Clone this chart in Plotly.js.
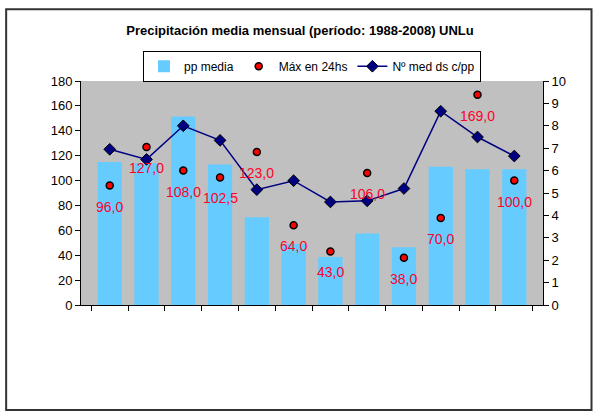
<!DOCTYPE html>
<html>
<head>
<meta charset="utf-8">
<script src="https://cdn.plot.ly/plotly-3.0.1.min.js"></script>
<style>
  body { margin: 0; background: #fff; }
  #chart { width: 600px; height: 420px; }
</style>
</head>
<body>
<div id="chart"></div>
<script>
// months (no labels shown on the axis)
var meses = ["Ene", "Feb", "Mar", "Abr", "May", "Jun", "Jul", "Ago", "Sep", "Oct", "Nov", "Dic"];
// precipitation mean (mm), left axis
var ppMedia = [115, 114, 151.5, 113, 70.5, 49, 38.5, 57.5, 46.5, 111, 109, 109];
// max in 24 hs (mm), left axis
var max24hs = [96, 127, 108, 102.5, 123, 64, 43, 106, 38, 70, 169, 100];
// mean number of days with precipitation, right axis
var diasPp = [6.95, 6.5, 8.0, 7.35, 5.15, 5.55, 4.6, 4.65, 5.2, 8.65, 7.5, 6.65];

var tickFont = { family: "Liberation Sans, Arial, sans-serif", size: 13, color: "#000" };

var data = [
  {
    x: meses,
    y: ppMedia,
    type: "bar",
    name: "pp media",
    marker: { color: "#66CCFF", line: { width: 0 } },
    width: 0.66,
    hoverinfo: "x+y"
  },
  {
    x: meses,
    y: max24hs,
    type: "scatter",
    mode: "markers",
    name: "Máx en 24hs",
    marker: { color: "#FF0000", size: 7, line: { color: "#000", width: 1.5 } }
  },
  {
    x: meses,
    y: diasPp,
    type: "scatter",
    mode: "lines+markers",
    name: "Nº med ds c/pp",
    yaxis: "y2",
    line: { color: "#000080", width: 1.5 },
    marker: { symbol: "diamond", color: "#000080", size: 9, line: { color: "#000", width: 1 } }
  }
];

// red value labels under the max points
var etiquetas = max24hs.map(function (v, i) {
  return {
    x: meses[i],
    y: v,
    text: v.toFixed(1).replace(".", ","),
    showarrow: false,
    yshift: -21,
    font: { family: "Liberation Sans, Arial, sans-serif", size: 14, color: "#FF0028" }
  };
});

var layout = {
  width: 600,
  height: 420,
  margin: { l: 81, r: 57, t: 81, b: 115, pad: 0 },
  paper_bgcolor: "#fff",
  plot_bgcolor: "#C0C0C0",
  bargap: 0.34,
  title: {
    text: "<b>Precipitación media mensual (período: 1988-2008) UNLu</b>",
    font: { family: "Liberation Sans, Arial, sans-serif", size: 13, color: "#000" },
    x: 0.5,
    xanchor: "center",
    y: 0.928,
    yanchor: "middle"
  },
  showlegend: true,
  legend: {
    orientation: "h",
    x: 0.5,
    xanchor: "center",
    y: 1.135,
    yanchor: "top",
    bgcolor: "#fff",
    bordercolor: "#000",
    borderwidth: 1,
    font: { family: "Liberation Sans, Arial, sans-serif", size: 12, color: "#000" },
    traceorder: "normal",
    itemwidth: 30,
    tracegroupgap: 0
  },
  xaxis: {
    type: "category",
    showticklabels: false,
    tickson: "boundaries",
    ticks: "outside",
    ticklen: 5,
    tickcolor: "#000",
    showline: true,
    linecolor: "#000",
    linewidth: 1,
    showgrid: false,
    zeroline: false,
    fixedrange: true
  },
  yaxis: {
    range: [0, 180],
    tickvals: [0, 20, 40, 60, 80, 100, 120, 140, 160, 180],
    ticks: "outside",
    ticklen: 5,
    tickcolor: "#000",
    tickfont: tickFont,
    showline: true,
    linecolor: "#000",
    linewidth: 1,
    showgrid: false,
    zeroline: false
  },
  yaxis2: {
    overlaying: "y",
    side: "right",
    range: [0, 10],
    tickvals: [0, 1, 2, 3, 4, 5, 6, 7, 8, 9, 10],
    ticks: "outside",
    ticklen: 5,
    tickcolor: "#000",
    tickfont: tickFont,
    showline: true,
    linecolor: "#000",
    linewidth: 1,
    showgrid: false,
    zeroline: false
  },
  annotations: etiquetas,
  shapes: [
    {
      type: "rect",
      xref: "paper",
      yref: "paper",
      x0: -0.162, x1: 1.105,
      y0: -0.469, y1: 1.32,
      line: { color: "#333", width: 2 },
      fillcolor: "rgba(0,0,0,0)",
      layer: "below"
    }
  ]
};

Plotly.newPlot("chart", data, layout, { displayModeBar: false, staticPlot: true });
</script>
</body>
</html>
